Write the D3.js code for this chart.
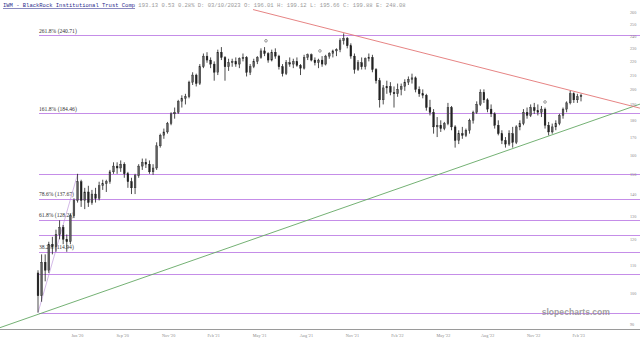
<!DOCTYPE html>
<html><head><meta charset="utf-8">
<script src="https://cdn.jsdelivr.net/npm/d3@7"></script>
<style>html,body{margin:0;padding:0;background:#fff;overflow:hidden}</style>
</head><body>
<svg id="c" width="640" height="343"></svg>
<script>
// Weekly OHLC (index 0 = week of the March 2020 low)
const opens  = [107,99,111,108,118,117,122,125,120,119,130,137,146,137,141,136,140,138,144,145,146,151,154,153,155,150,146,143,149,154,156,155,151,153,165,171,173,178,184,185,192,194,195,205,210,204,216,224,221,218,212,227,223,216,219,220,218,222,223,212,216,220,223,228,226,221,227,224,216,211,219,218,220,217,215,223,225,221,219,221,218,224,226,228,229,236,238,232,224,214,219,216,222,223,214,206,193,201,202,198,197,200,202,205,207,208,200,197,196,188,185,176,177,175,178,188,176,168,172,171,174,180,185,190,198,193,187,184,177,172,168,166,172,167,176,178,185,183,188,186,185,187,177,173,176,178,183,187,191,197,193,195];
const highs  = [108,114,114,119,121,124,128,126,122,131,138,150,147,143,144,142,143,146,147,147,152,156,156,157,156,151,148,150,155,158,158,157,155,167,172,175,179,185,188,193,196,197,206,212,211,218,226,227,223,220,229,231,224,222,222,223,223,226,224,218,222,224,230,231,227,229,230,225,218,221,223,222,223,218,225,226,226,223,222,224,225,227,229,230,238,242,239,234,226,221,223,223,226,225,215,208,203,206,205,202,204,204,207,209,211,209,202,200,197,193,187,182,180,179,191,189,177,174,176,175,181,186,192,200,200,194,190,185,180,174,170,174,176,177,180,187,188,190,191,190,189,188,179,178,180,184,188,192,199,198,197,197];
const lows   = [93.5,97,104,107,114,115,120,118,115,118,129,136,134,133,134,135,136,137,142,141,145,150,150,151,148,143,140,140,148,152,153,150,149.5,152,164,169,172,177,181,184,188,190,194,203,202,203,215,219,215,206,210,221,206,213,216,216,215,220,209,210,215,218,222,224,219,220,222,214,209,210,216,215,216,210,214,221,220,217,215,216,217,222,223,224,227,233,230,222,211,213,214,214,220,212,204,188,190,197,196,188,195,196,199,203,204,198,195,194,186,183,172,170,173,174,177,174,164,166,169,170,172,178,184,189,191,185,182,175,171,166,164,165,164,166,174,177,181,182,184,183,182,175,171,172,174,177,181,185,190,191,191,192];
const closes = [99,111,108,118,117,122,125,120,119,130,137,146,137,141,136,140,138,144,145,146,151,154,153,155,150,146,143,149,154,156,155,151,153,165,171,173,178,184,185,192,194,195,205,210,204,216,224,221,218,212,227,223,216,219,220,218,222,223,212,216,220,223,228,226,221,227,224,216,211,219,218,220,217,215,223,225,221,219,221,218,224,226,228,229,236,238,232,224,214,219,216,222,223,214,206,193,201,202,198,197,200,202,205,207,208,200,197,196,188,185,176,177,175,178,188,176,168,172,171,174,180,185,190,198,193,187,184,177,172,168,166,172,167,176,178,185,183,188,186,185,187,177,173,176,178,183,187,191,197,193,195,196];

// Fibonacci levels
const fibPct    = ["261.8%","161.8%","100%","78.6%","61.8%","50%","38.2%","23.6%","0%"];
const fibValues = [240.71,184.46,149.70,137.67,128.21,121.58,114.94,106.72,93.45];
const fibShown  = [true,true,false,true,true,false,true,false,false];
const fibAnchor = [[0,93.45],[11,149.70]];

// Trend lines [weekIndex, price]
const redLine   = [[59.8,262.5],[167.4,187.6]];
const greenLine = [[-10.6,88.8],[167.4,190.2]];

// Small event markers [weekIndex, price]
const markers = [[63.4,236],[78.4,228],[141,191.6]];

// Axis ticks
const yTicks = [90,100,110,120,130,140,150,160,170,180,190,200,210,220,230,240,250,260];
const xTickIdx = [10.8,23.4,36.2,48.7,61.5,74.5,87.3,99.8,112.6,124.9,137.7,150.2];
const xTickLabels = ["Jun '20","Sep '20","Nov '20","Feb '21","May '21","Aug '21","Nov '21","Feb '22","May '22","Aug '22","Nov '22","Feb '23"];

const headerTitle = "IWM  -  BlackRock Institutional Trust Comp";
const headerValues = "193.13  0.53  0.28%  D: 03/10/2023  O: 196.01  H: 199.12  L: 195.66  C: 199.88  E: 248.08";

const svg = d3.select("#c");
const W = 640, H = 343;
const x = d3.scaleLinear().domain([0, closes.length - 1]).range([38, 581]);
const y = d3.scaleLog().domain([93.45, 240.71]).range([312.7, 35]);

// Fib lines
const fib = svg.append("g");
fibValues.forEach((v, i) => {
  fib.append("rect").attr("x", x(0) + 1).attr("width", W - x(0) - 1)
    .attr("y", Math.round(y(v))).attr("height", 1)
    .attr("fill", "#c58de8");
  if (fibShown[i]) {
    fib.append("text").attr("x", x(0) + 1).attr("y", y(v) - 2.5)
      .attr("font-family", "Liberation Serif").attr("font-size", 5.6)
      .attr("fill", "#333").text(fibPct[i] + " (" + v.toFixed(2) + ")");
  }
});
const lineGen = d3.line().x(d => x(d[0])).y(d => y(d[1]));
svg.append("path").attr("d", lineGen(fibAnchor)).attr("fill", "none")
  .attr("stroke", "#b58ad6").attr("stroke-width", 0.6);

// Trend lines
svg.append("path").attr("d", lineGen(greenLine)).attr("fill", "none")
  .attr("stroke", "#64a864").attr("stroke-width", 0.9);
svg.append("path").attr("d", lineGen(redLine)).attr("fill", "none")
  .attr("stroke", "#e37676").attr("stroke-width", 0.9);

// Candles
const cg = svg.append("g");
const bw = 1.8;
closes.forEach((c, i) => {
  const o = opens[i], hi = highs[i], lo = lows[i];
  const cx = x(i);
  cg.append("line").attr("x1", cx).attr("x2", cx).attr("y1", y(hi)).attr("y2", y(lo))
    .attr("stroke", "#1e1e1e").attr("stroke-width", 0.8);
  const top = y(Math.max(o, c)), bot = y(Math.min(o, c));
  cg.append("rect").attr("x", cx - bw / 2).attr("width", bw)
    .attr("y", top).attr("height", Math.max(0.8, bot - top))
    .attr("fill", c >= o ? "#5e5e5e" : "#222").attr("stroke", "#1e1e1e").attr("stroke-width", 0.35);
});

// markers
svg.append("g").selectAll("circle").data(markers).join("circle")
  .attr("cx", d => x(d[0])).attr("cy", d => y(d[1])).attr("r", 1.3)
  .attr("fill", "none").attr("stroke", "#555").attr("stroke-width", 0.6);

// Bottom axis
svg.append("line").attr("x1", 0).attr("x2", W).attr("y1", 329.5).attr("y2", 329.5)
  .attr("stroke", "#9a9a9a").attr("stroke-width", 1);
const xa = svg.append("g").attr("transform", "translate(0,329.5)")
  .call(d3.axisBottom(x).tickValues(xTickIdx).tickSize(0).tickPadding(5)
    .tickFormat((d, i) => xTickLabels[i]));
xa.select(".domain").remove();
xa.selectAll("text").attr("font-family", "Liberation Serif").attr("font-size", 4.2).attr("fill", "#888");

// Right axis
const ya = svg.append("g").attr("transform", "translate(629,0)")
  .call(d3.axisRight(y).tickValues(yTicks).tickSize(0).tickPadding(1).tickFormat(d3.format("d")));
ya.select(".domain").remove();
ya.selectAll("text").attr("font-family", "Liberation Serif").attr("font-size", 4.2).attr("fill", "#888");

// Header
const hd = svg.append("text").attr("x", 3).attr("y", 7)
  .attr("font-family", "Liberation Mono").attr("font-size", 5.5);
hd.append("tspan").attr("fill", "#2c2c8c").attr("text-decoration", "underline").text(headerTitle);
hd.append("tspan").attr("fill", "#9a9a9a").text(" " + headerValues);

// Watermark
svg.append("text").attr("x", 610).attr("y", 315).attr("text-anchor", "end")
  .attr("font-family", "Liberation Sans").attr("font-size", 8.6).attr("font-weight", "bold")
  .attr("fill", "#8a8a8a").attr("fill-opacity", 0.8).text("slopecharts.com");
</script>
</body></html>
